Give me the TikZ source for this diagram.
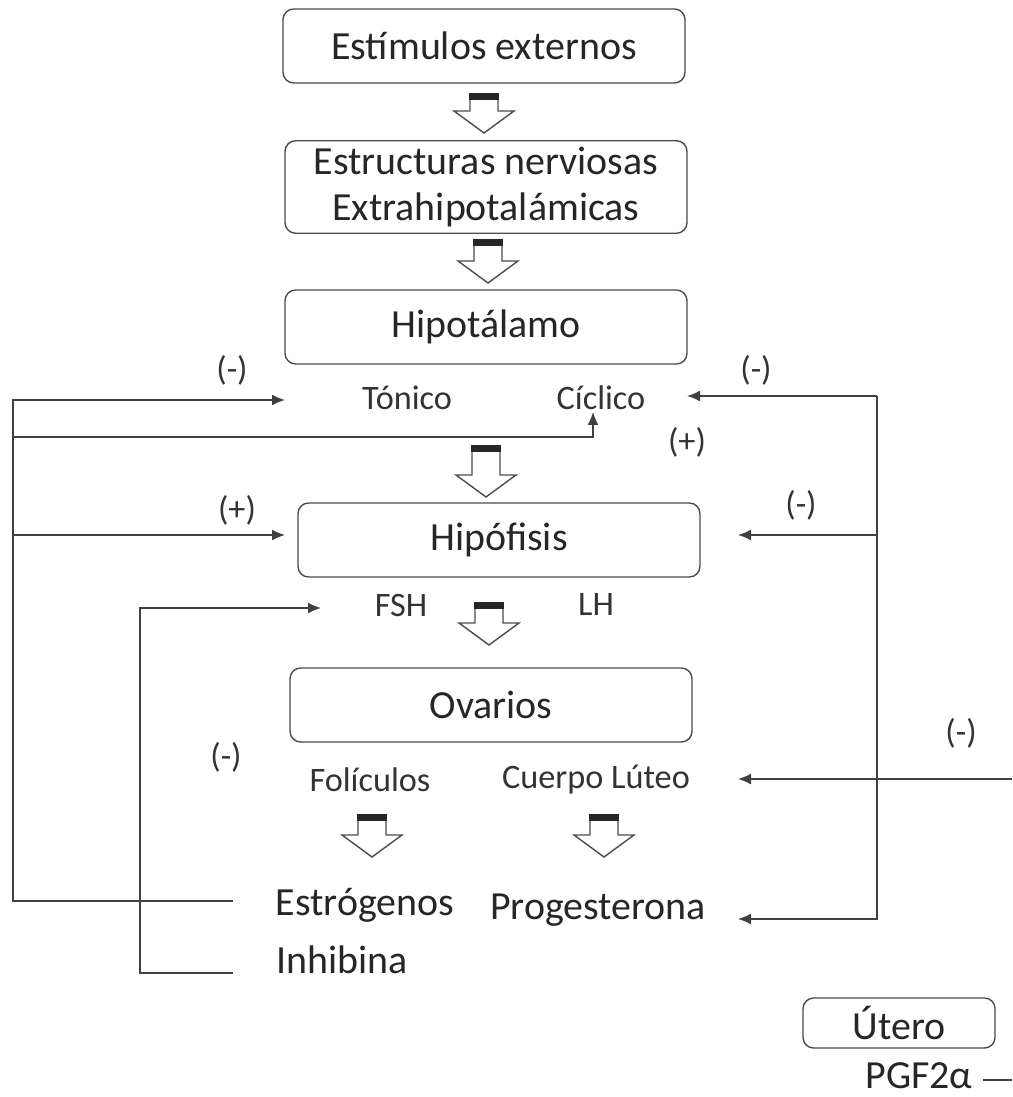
\documentclass[tikz,border=0pt]{standalone}
\usepackage{fontspec}
\setmainfont{Carlito}
\usetikzlibrary{arrows.meta}
\newcommand\bigtxt{\fontsize{22.7}{26.7}\selectfont}
\newcommand\midtxt{\fontsize{19.5}{23}\selectfont}
\tikzset{
  caja/.style={draw=black!70,line width=0.8pt,rounded corners=6pt,minimum width=8.04cm,minimum height=1.48cm,align=center,font=\bigtxt,text=black!85},
  etiq/.style={font=\midtxt,text=black!80,inner sep=0pt},
  horm/.style={font=\bigtxt,text=black!85,inner sep=0pt},
  fb/.style={draw=black!75,line width=0.9pt},
  >={Latex[length=2.6mm,width=2.2mm]}
}
\begin{document}
\begin{tikzpicture}[x=0.02cm,y=-0.02cm]
\useasboundingbox (0,0) rectangle (1012,1097);
% cajas
\node[caja] (estimulos) at (484,46) {Estímulos externos};
\node[caja,minimum height=1.72cm] (estructuras) at (486,187) {Estructuras nerviosas\\Extrahipotalámicas};
\node[caja] (hipotalamo) at (486,327) {Hipotálamo};
\node[caja] (hipofisis) at (499,540) {Hipófisis};
\node[caja] (ovarios) at (491,705) {Ovarios};
\node[caja,minimum width=3.84cm,minimum height=1cm] (utero) at (899,1023) {Útero};
% textos
\node[etiq] (tonico) at (407,398) {Tónico};
\node[etiq] (ciclico) at (601,398) {Cíclico};
\node[etiq] (fsh) at (401,605) {FSH};
\node[etiq] (lh) at (596,605) {LH};
\node[etiq] (foliculos) at (370,780) {Folículos};
\node[etiq] (luteo) at (596,780) {Cuerpo Lúteo};
\node[horm] (estrogenos) at (365,905) {Estrógenos};
\node[horm] (progesterona) at (598,910) {Progesterona};
\node[horm] (inhibina) at (342,960) {Inhibina};
\node[horm] (pgf) at (919,1076) {PGF2α};
% signos
\node[etiq] (s1) at (232,370) {(-)};
\node[etiq] (s2) at (237,510) {(+)};
\node[etiq] (s3) at (756,370) {(-)};
\node[etiq] (s4) at (687,442) {(+)};
\node[etiq] (s5) at (801,505) {(-)};
\node[etiq] (s6) at (226,757) {(-)};
\node[etiq] (s7) at (961,733) {(-)};
% flechas huecas
\foreach \cx/\ty/\tip in {484/93/133, 488/239/283, 486/445/497, 489/602/645, 372/814/857, 604/814/857}{
  \fill[black!85] (\cx-15,\ty) rectangle (\cx+15,\ty+7);
  \draw[black!70,line width=0.8pt] (\cx-14,\ty+7) -- (\cx-14,\tip-22) -- (\cx-30,\tip-22) -- (\cx,\tip) -- (\cx+30,\tip-22) -- (\cx+14,\tip-22) -- (\cx+14,\ty+7);
}
% retroalimentacion izquierda
\coordinate (estroL) at (233,901);
\coordinate (inhL) at (233,973);
\coordinate (izqA) at (13,400);
\coordinate (izqB) at (13,437);
\coordinate (izqC) at (13,535);
\coordinate (izqD) at (140,608);
\coordinate (tonIn) at (285,400);
\coordinate (cicIn) at (593,412);
\coordinate (hipIn) at (285,535);
\coordinate (fshIn) at (321,608);
\draw[fb,->] (estroL) -| (izqA) -- (tonIn);
\draw[fb,->] (izqB) -| (cicIn);
\draw[fb,->] (izqC) -- (hipIn);
\draw[fb,->] (inhL) -| (izqD) -- (fshIn);
% retroalimentacion derecha
\coordinate (derA) at (877,396);
\coordinate (derB) at (877,535);
\coordinate (cicR) at (687,396);
\coordinate (hipR) at (738,535);
\coordinate (lutR) at (738,779);
\coordinate (progR) at (738,919);
\coordinate (borde) at (1012,779);
\coordinate (pgfR) at (983,1080);
\coordinate (pgfE) at (1012,1080);
\draw[fb,->] (derA) -- (cicR);
\draw[fb,->] (derA) |- (progR);
\draw[fb,->] (derB) -- (hipR);
\draw[fb,->] (borde) -- (lutR);
\draw[fb] (pgfR) -- (pgfE);
\end{tikzpicture}
\end{document}
